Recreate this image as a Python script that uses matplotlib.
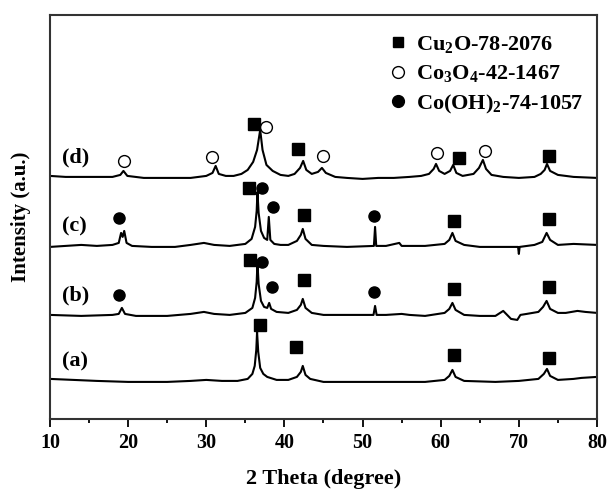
import matplotlib
matplotlib.use("Agg")
import matplotlib.pyplot as plt
from matplotlib.lines import Line2D

plt.rcParams["font.family"] = ["Liberation Serif", "DejaVu Serif"]
plt.rcParams["font.weight"] = "bold"
plt.rcParams["mathtext.fontset"] = "custom"
plt.rcParams["mathtext.rm"] = "Liberation Serif:bold"
plt.rcParams["mathtext.bf"] = "Liberation Serif:bold"

# ---------------------------------------------------------------- data
# intensities relative to each pattern's own baseline (a.u.)
tt_a = [10, 13, 16, 20, 25, 28, 30, 32, 34, 35.3, 35.9, 36.2, 36.4, 36.5, 36.65, 36.9,
        37.3, 37.8, 39, 40.5, 41.6, 42.1, 42.35, 42.7, 43.3, 45, 50, 55, 58, 60.5,
        61.1, 61.5, 61.9, 63, 67, 70, 72.5, 73.2, 73.6, 74.0, 75, 77, 78, 80]
int_a = [3, 2, 1, 0, 0, 1, 2, 1, 1, 3, 8, 16, 32, 50, 30, 14,
         8, 5, 2, 2, 5, 10, 16, 7, 3, 0, 0, 0, 0, 2,
         6, 12, 5, 1, 0, 1, 3, 8, 13, 6, 2, 3, 4, 5]

tt_b = [10, 14, 18, 18.8, 19.2, 19.6, 21, 25, 28, 29.7, 31, 33, 35, 35.9, 36.25, 36.45,
        36.55, 36.7, 37.0, 37.4, 37.8, 38.05, 38.3, 39, 40.5, 41.6, 42.1, 42.35, 42.7,
        43.5, 45, 47, 49, 51.4, 51.6, 51.8, 53, 55, 56, 58, 60.5, 61.1, 61.5, 61.9, 63,
        65, 67, 68.0, 68.5, 69.0, 69.8, 70.2, 71, 72.5, 73.1, 73.55, 74.0, 75, 76, 77.5,
        78.5, 80]
int_b = [1, 0, 1, 2, 8, 2, 0, 0, 2, 4, 2, 1, 3, 8, 18, 34,
         53, 32, 15, 9, 8, 13, 7, 4, 3, 6, 11, 17, 8,
         3, 1, 1, 1, 1, 10, 1, 1, 2, 1, 0, 3, 7, 13, 6, 1,
         0, 0, 5, 1, -3, -4, 1, 2, 4, 9, 15, 7, 3, 3, 5,
         4, 3]

tt_c = [10, 12, 14, 16, 18, 18.8, 19.1, 19.3, 19.5, 19.8, 20.5, 23, 26, 28, 29.7, 31,
        33, 35, 35.8, 36.25, 36.45, 36.55, 36.7, 37.0, 37.4, 37.8, 38.0, 38.2, 38.7,
        39.5, 40.5, 41.6, 42.1, 42.35, 42.7, 43.5, 45, 48, 51.45, 51.6, 51.75, 53, 54.7,
        55, 57, 58, 60.5, 61.1, 61.5, 61.9, 63, 65, 68, 69.9, 70.0, 70.1, 72, 73.0,
        73.55, 74.0, 75, 77, 80]
int_c = [0, 1, 2, 1, 2, 4, 14, 10, 16, 4, 1, 0, 0, 2, 4, 2,
         1, 3, 8, 20, 36, 55, 34, 16, 9, 7, 30, 7, 3,
         2, 2, 6, 12, 18, 8, 2, 1, 0, 1, 20, 1, 1, 4,
         1, 1, 1, 3, 7, 14, 6, 2, 0, 0, 0, -7, 0, 2, 5,
         14, 7, 2, 3, 2]

tt_d = [10, 12, 15, 18, 19.0, 19.4, 19.9, 22, 25, 28, 30, 30.8, 31.2, 31.6, 32.5, 33.5,
        34.5, 35.3, 36.0, 36.5, 36.9, 37.2, 37.7, 38.5, 39.5, 40.5, 41.3, 42.0, 42.4,
        42.8, 43.5, 44.3, 44.8, 45.3, 46.5, 48, 50, 52, 54, 56, 57.5, 58.5, 59.1, 59.4,
        59.8, 60.5, 61.2, 61.6, 62.0, 62.8, 64.2, 64.9, 65.4, 65.8, 66.5, 68, 70, 72,
        72.8, 73.3, 73.6, 74.0, 75, 77, 80]
int_d = [2, 1, 1, 1, 3, 7, 2, 0, 0, 0, 2, 5, 12, 4, 2, 2,
         4, 8, 16, 28, 48, 28, 13, 7, 3, 2, 4, 10, 17,
         8, 4, 6, 10, 5, 1, 0, -1, 0, 0, 1, 2, 4, 9, 14,
         7, 4, 7, 13, 5, 2, 4, 10, 18, 9, 3, 1, 0, 1,
         4, 8, 14, 7, 3, 1, 0]

patterns = [(tt_a, int_a), (tt_b, int_b), (tt_c, int_c), (tt_d, int_d)]
offsets = [37, 103, 172, 241]
labels = ["(a)", "(b)", "(c)", "(d)"]

# phase markers (2theta, intensity)
cu2o_tt = [36.9, 41.5, 61.7, 73.8,
           35.6, 42.5, 61.7, 73.8,
           35.5, 42.5, 61.7, 73.9,
           36.1, 41.8, 62.4, 73.9]
cu2o_y = [94, 72, 64, 61,
          159, 139, 130, 132,
          231, 204, 198, 200,
          295, 270, 261, 263]

co3o4_tt = [19.5, 30.7, 37.7, 44.9, 59.5, 65.7]
co3o4_y = [258, 262, 292, 263, 266, 268]

cooh_tt = [18.8, 37.1, 38.4, 51.5,
           18.8, 37.1, 38.5, 51.5]
cooh_y = [124, 157, 132, 127,
          201, 231, 212, 203]

legend_labels = ["Cu$_2$O-78-2076", "Co$_3$O$_4$-42-1467", "Co(OH)$_2$-74-1057"]

# ---------------------------------------------------------------- plot
fig = plt.figure(figsize=(6.08, 4.94), dpi=100)
ax = fig.add_axes([0.0822, 0.152, 0.8997, 0.8178])

for (tt, inten), off, lab in zip(patterns, offsets, labels):
    ax.plot(tt, [v + off for v in inten], color="black", lw=1.5)
    ax.text(11.6, off + 20, lab, fontsize=16, fontweight="bold", va="center")

ax.plot(cu2o_tt, cu2o_y, ls="none", marker="s", ms=8, color="black")
ax.plot(co3o4_tt, co3o4_y, ls="none", marker="o", ms=8.5, mfc="white",
        mec="black", mew=1.0)
ax.plot(cooh_tt, cooh_y, ls="none", marker="o", ms=8, color="black")

handles = [
    Line2D([], [], ls="none", marker="s", ms=7.5, color="black"),
    Line2D([], [], ls="none", marker="o", ms=8.5, mfc="white", mec="black", mew=1.0),
    Line2D([], [], ls="none", marker="o", ms=8.5, color="black"),
]
ax.legend(handles, legend_labels, loc="upper left", bbox_to_anchor=(0.6, 0.975),
          frameon=False, fontsize=16, handletextpad=0.3, labelspacing=0.35,
          handlelength=1.0, borderaxespad=0.0)

ax.set_xlim(10, 80)
ax.set_ylim(0, 404)
ax.set_xticks(range(10, 81, 10))
ax.set_xticks(range(15, 80, 10), minor=True)
ax.set_yticks([])
ax.tick_params(axis="x", which="major", length=6, width=1.3, labelsize=14.5, pad=4)
ax.tick_params(axis="x", which="minor", length=3, width=1.3)
for lab in ax.get_xticklabels():
    lab.set_fontweight("bold")
for sp in ax.spines.values():
    sp.set_linewidth(1.5)
    sp.set_color("#333333")

ax.set_xlabel("2 Theta (degree)", fontsize=16, fontweight="bold", labelpad=12)
ax.set_ylabel("Intensity (a.u.)", fontsize=15, fontweight="bold", labelpad=14)

fig.savefig("out.png", dpi=100)
